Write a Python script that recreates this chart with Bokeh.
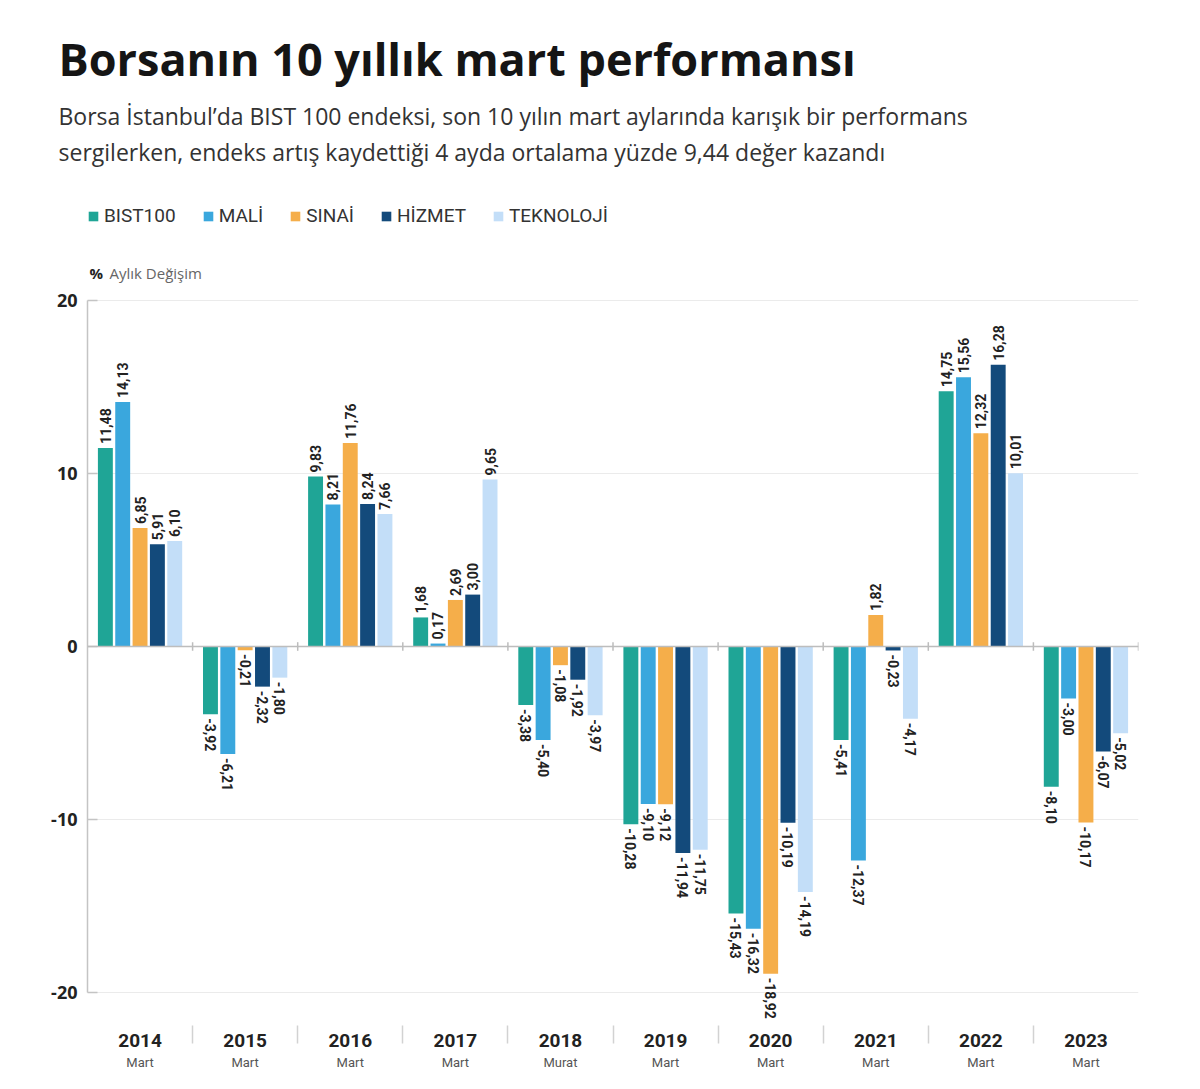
import math
from bokeh.plotting import figure
from bokeh.models import (ColumnDataSource, FactorRange, Range1d, FixedTicker, CategoricalAxis,
                          Label, LabelSet, Legend, LegendItem, Span, Title)
from bokeh.transform import dodge
from bokeh.core.properties import value
from bokeh.embed import file_html
from bokeh.resources import INLINE

# ---------------- data ----------------
years = ["2014", "2015", "2016", "2017", "2018", "2019", "2020", "2021", "2022", "2023"]
months = ["Mart", "Mart", "Mart", "Mart", "Murat", "Mart", "Mart", "Mart", "Mart", "Mart"]
series_names = ["BIST100", "MALİ", "SINAİ", "HİZMET", "TEKNOLOJİ"]
bist100 = [11.48, -3.92, 9.83, 1.68, -3.38, -10.28, -15.43, -5.41, 14.75, -8.10]
mali = [14.13, -6.21, 8.21, 0.17, -5.40, -9.10, -16.32, -12.37, 15.56, -3.00]
sinai = [6.85, -0.21, 11.76, 2.69, -1.08, -9.12, -18.92, 1.82, 12.32, -10.17]
hizmet = [5.91, -2.32, 8.24, 3.00, -1.92, -11.94, -10.19, -0.23, 16.28, -6.07]
teknoloji = [6.10, -1.80, 7.66, 9.65, -3.97, -11.75, -14.19, -4.17, 10.01, -5.02]
y_ticks = [-20, -10, 0, 10, 20]

title_text = "Borsanın 10 yıllık mart performansı"
subtitle_1 = "Borsa İstanbul’da BIST 100 endeksi, son 10 yılın mart aylarında karışık bir performans"
subtitle_2 = "sergilerken, endeks artış kaydettiği 4 ayda ortalama yüzde 9,44 değer kazandı"
unit_symbol = "%"
unit_text = "Aylık Değişim"

# ---------------- style / layout ----------------
colors = ["#1fa596", "#3aa7dd", "#f5ae4a", "#134a7b", "#c3def8"]
offsets = [-0.33, -0.165, 0.0, 0.165, 0.33]
bar_w = 0.142
HEAD_FONT = "Open Sans"
NUM_FONT = "Roboto"

W = 1188
H = 1080
FRAME_LEFT = 87
FRAME_RIGHT = 1138
FRAME_TOP = 171          # frame is extended above the +20 line to hold legend / unit label
FRAME_BOTTOM = 1022      # a little below the -20 line so labels are not clipped
Y20_PX = 300             # pixel row of +20
PX_PER_UNIT = 692 / 40.0
y_top = 20 + (Y20_PX - FRAME_TOP) / PX_PER_UNIT
y_low = 20 - (FRAME_BOTTOM - Y20_PX) / PX_PER_UNIT

factors = list(zip(years, months))

p = figure(x_range=FactorRange(*factors, range_padding=0, factor_padding=0, group_padding=0),
           y_range=Range1d(y_low, y_top),
           width=W, height=H,
           min_border_left=FRAME_LEFT, min_border_right=W - FRAME_RIGHT,
           min_border_top=FRAME_TOP, min_border_bottom=H - FRAME_BOTTOM,
           output_backend="svg", toolbar_location=None, outline_line_color=None)
p.background_fill_color = "white"
p.border_fill_color = "white"
p.extra_x_ranges = {"mo": FactorRange(*factors, range_padding=0, factor_padding=0, group_padding=0)}

# grid
p.xgrid.grid_line_color = None
p.ygrid.ticker = FixedTicker(ticks=y_ticks)
p.ygrid.grid_line_color = "#ebebeb"
p.ygrid.grid_line_width = 1

# y axis
p.yaxis.ticker = FixedTicker(ticks=y_ticks)
p.yaxis.bounds = (min(y_ticks), max(y_ticks))
p.yaxis.major_label_overrides = {t: str(t) for t in y_ticks}
p.yaxis.axis_line_color = "#c4c4c4"
p.yaxis.axis_line_width = 1.5
p.yaxis.major_tick_in = 10
p.yaxis.major_tick_out = 0
p.yaxis.major_tick_line_color = "#c4c4c4"
p.yaxis.major_tick_line_width = 1.5
p.yaxis.minor_tick_line_color = None
p.yaxis.major_label_standoff = 10
p.yaxis.major_label_text_font = HEAD_FONT
p.yaxis.major_label_text_font_style = "bold"
p.yaxis.major_label_text_font_size = "18px"
p.yaxis.major_label_text_color = "#222222"

# x axis: years (group level) with separators between them; month level hidden here
year_axis = p.xaxis[0]
year_axis.axis_line_color = None
year_axis.major_tick_line_color = None
year_axis.major_tick_in = 0
year_axis.major_tick_out = 0
year_axis.minor_tick_line_color = None
year_axis.major_label_standoff = 11
year_axis.major_label_text_font_size = "1px"
year_axis.major_label_text_alpha = 0
year_axis.group_text_font = NUM_FONT
year_axis.group_text_font_style = "bold"
year_axis.group_text_font_size = "19px"
year_axis.group_text_color = "#222222"
year_axis.separator_line_color = "#d2d2d2"
year_axis.separator_line_width = 1.5

# second x axis: month labels (group level hidden)
month_axis = CategoricalAxis(x_range_name="mo")
month_axis.axis_line_color = None
month_axis.major_tick_line_color = None
month_axis.major_tick_in = 0
month_axis.major_tick_out = 0
month_axis.minor_tick_line_color = None
month_axis.major_label_standoff = 5
month_axis.major_label_text_font = NUM_FONT
month_axis.major_label_text_font_size = "13px"
month_axis.major_label_text_color = "#555555"
month_axis.group_text_font_size = "1px"
month_axis.group_text_alpha = 0
month_axis.separator_line_color = None
p.add_layout(month_axis, "below")

# zero line
p.add_layout(Span(location=0, dimension="width", line_color="#bdbdbd", line_width=1.5))

# small ticks on zero line at category boundaries
bsrc = ColumnDataSource(dict(x=factors, y0=[-0.25] * len(years), y1=[0.25] * len(years)))
p.segment(x0=dodge("x", 0.5, range=p.x_range), x1=dodge("x", 0.5, range=p.x_range),
          y0="y0", y1="y1", source=bsrc, line_color="#bdbdbd", line_width=1.5)

# bars + value labels
all_series = [bist100, mali, sinai, hizmet, teknoloji]
renderers = []
for name, vals, col, off in zip(series_names, all_series, colors, offsets):
    src = ColumnDataSource(dict(x=factors, top=vals))
    r = p.vbar(x=dodge("x", off, range=p.x_range), top="top", width=bar_w, source=src,
               fill_color=col, line_color=None)
    renderers.append(r)
    pos = [(f, v) for f, v in zip(factors, vals) if v >= 0]
    neg = [(f, v) for f, v in zip(factors, vals) if v < 0]
    for subset, ang, yoff in ((pos, math.pi / 2, 4), (neg, -math.pi / 2, -4)):
        if not subset:
            continue
        lsrc = ColumnDataSource(dict(x=[s[0] for s in subset], y=[s[1] for s in subset],
                                     t=[f"{s[1]:.2f}".replace(".", ",") for s in subset]))
        p.add_layout(LabelSet(x=dodge("x", off, range=p.x_range), y="y", text="t", source=lsrc,
                              angle=ang, y_offset=yoff, text_align="left", text_baseline="middle",
                              text_font=value(NUM_FONT), text_font_style="bold",
                              text_font_size="14px", text_color="#222222"))

# legend (inside the upper, empty part of the frame)
legend = Legend(items=[LegendItem(label=n, renderers=[r]) for n, r in zip(series_names, renderers)],
                orientation="horizontal", location=(0, FRAME_BOTTOM - 227),
                glyph_width=12, glyph_height=12, label_standoff=5, spacing=26,
                padding=0, margin=0, border_line_color=None, background_fill_alpha=0,
                label_text_font=NUM_FONT, label_text_font_size="19px", label_text_color="#333333",
                label_height=22)
p.add_layout(legend)

# unit label
p.add_layout(Label(x=2, y=FRAME_BOTTOM - 272, x_units="screen", y_units="screen",
                   text=unit_symbol, text_font=HEAD_FONT, text_font_style="bold",
                   text_font_size="15px", text_color="#222222", text_baseline="alphabetic"))
p.add_layout(Label(x=22, y=FRAME_BOTTOM - 272, x_units="screen", y_units="screen",
                   text=unit_text, text_font=HEAD_FONT, text_font_size="15px",
                   text_color="#666666", text_baseline="alphabetic"))

# ---------------- header rows (stacked above the frame, nearest first) ----------------
sub2_title = Title(text=subtitle_2, align="left", offset=58 - FRAME_LEFT, vertical_align="middle",
                   standoff=5, text_font=HEAD_FONT, text_font_size="23px", text_font_style="normal",
                   text_color="#333333")
sub1_title = Title(text=subtitle_1, align="left", offset=58 - FRAME_LEFT, vertical_align="middle",
                   standoff=0, text_font=HEAD_FONT, text_font_size="23px", text_font_style="normal",
                   text_color="#333333")
main_title = Title(text=title_text, align="left", offset=58 - FRAME_LEFT, vertical_align="middle",
                   standoff=17, text_font=HEAD_FONT, text_font_size="45px", text_font_style="bold",
                   text_color="#151515")
p.title = None
p.above = [sub2_title, sub1_title, main_title]

open("out.html", "w").write(file_html(p, INLINE, title="Borsanın 10 yıllık mart performansı"))
